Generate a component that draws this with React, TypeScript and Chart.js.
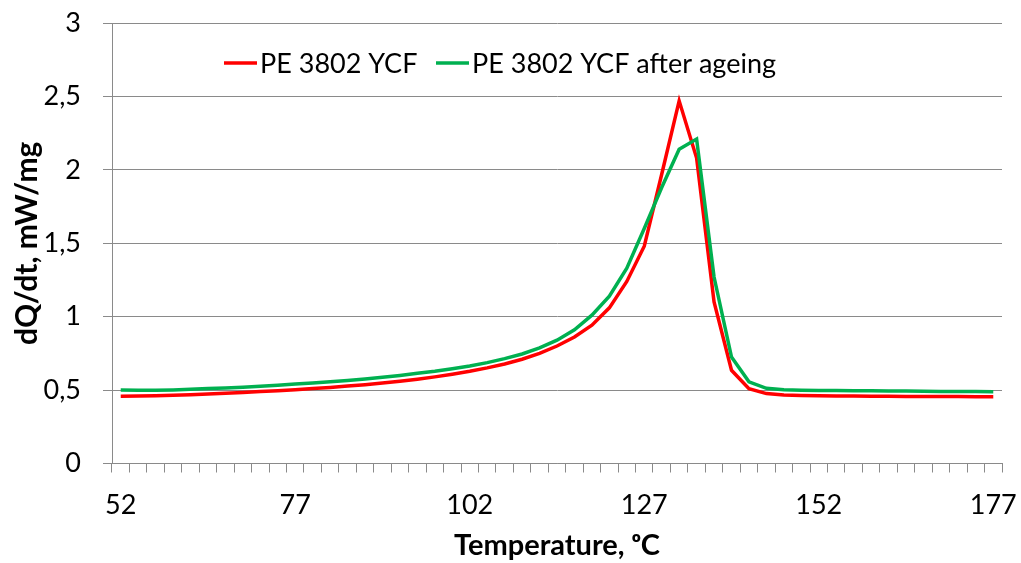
import React, { useEffect, useRef } from 'react';
import { Chart, registerables } from 'chart.js';

Chart.register(...registerables);

// Temperature categories (°C), step 2.5
const temperatures = [
  52, 54.5, 57, 59.5, 62, 64.5, 67, 69.5, 72, 74.5,
  77, 79.5, 82, 84.5, 87, 89.5, 92, 94.5, 97, 99.5,
  102, 104.5, 107, 109.5, 112, 114.5, 117, 119.5, 122, 124.5,
  127, 129.5, 132, 134.5, 137, 139.5, 142, 144.5, 147, 149.5,
  152, 154.5, 157, 159.5, 162, 164.5, 167, 169.5, 172, 174.5,
  177,
];

const xTickLabels = ['52', '77', '102', '127', '152', '177'];
const yTickLabels = ['0', '0,5', '1', '1,5', '2', '2,5', '3'];
const seriesNames = ['PE 3802 YCF', 'PE 3802 YCF after ageing'];

const peOriginal = [
  0.458, 0.459, 0.461, 0.464, 0.468, 0.473, 0.478, 0.484, 0.490, 0.496,
  0.503, 0.510, 0.518, 0.527, 0.537, 0.548, 0.560, 0.574, 0.590, 0.608,
  0.628, 0.651, 0.678, 0.710, 0.750, 0.800, 0.862, 0.942, 1.060, 1.240,
  1.480, 1.970, 2.470, 2.080, 1.100, 0.635, 0.510, 0.476, 0.466, 0.463,
  0.461, 0.460, 0.459, 0.458, 0.458, 0.457, 0.457, 0.456, 0.456, 0.455,
  0.455,
];

const peAged = [
  0.500, 0.499, 0.499, 0.501, 0.505, 0.510, 0.515, 0.520, 0.526, 0.533,
  0.541, 0.549, 0.557, 0.566, 0.576, 0.587, 0.600, 0.614, 0.628, 0.645,
  0.664, 0.687, 0.714, 0.746, 0.787, 0.840, 0.910, 1.010, 1.140, 1.330,
  1.600, 1.880, 2.140, 2.210, 1.270, 0.725, 0.556, 0.512, 0.502, 0.499,
  0.498, 0.497, 0.496, 0.495, 0.494, 0.493, 0.492, 0.491, 0.490, 0.490,
  0.489,
];

const FONT = 'Lato, "Open Sans", sans-serif';
const GRID = '#8a8a8a';

const legendPlugin = {
  id: 'manualLegend',
  afterDraw(chart: any) {
    const ctx = chart.ctx;
    const items = [
      { x: 224, color: chart.data.datasets[0].borderColor, text: seriesNames[0] },
      { x: 436, color: chart.data.datasets[1].borderColor, text: seriesNames[1] },
    ];
    const y = 63;
    ctx.save();
    ctx.font = `27px ${FONT}`;
    ctx.textBaseline = 'middle';
    ctx.textAlign = 'left';
    for (const it of items) {
      ctx.strokeStyle = it.color;
      ctx.lineWidth = 3.5;
      ctx.beginPath();
      ctx.moveTo(it.x, y);
      ctx.lineTo(it.x + 33, y);
      ctx.stroke();
      ctx.fillStyle = '#000';
      ctx.fillText(it.text, it.x + 36, y + 1);
    }
    ctx.restore();
  },
};

export default function App() {
  const ref = useRef<HTMLCanvasElement | null>(null);

  useEffect(() => {
    if (!ref.current) return;
    const chart = new Chart(ref.current, {
      type: 'line',
      data: {
        labels: temperatures.map(String),
        datasets: [
          {
            label: seriesNames[0],
            data: peOriginal,
            borderColor: '#FF0000',
            backgroundColor: '#FF0000',
            borderWidth: 3.5,
            pointRadius: 0,
            tension: 0,
            order: 2,
          },
          {
            label: seriesNames[1],
            data: peAged,
            borderColor: '#00B050',
            backgroundColor: '#00B050',
            borderWidth: 3.5,
            pointRadius: 0,
            tension: 0,
            order: 1,
          },
        ],
      },
      options: {
        responsive: false,
        animation: false,
        devicePixelRatio: 1,
        layout: { padding: { left: 0, right: 19, top: 23, bottom: 0 } },
        plugins: {
          legend: { display: false },
          tooltip: { enabled: false },
        },
        scales: {
          x: {
            type: 'category',
            offset: true,
            grid: {
              display: true,
              drawOnChartArea: false,
              drawTicks: true,
              tickLength: 9,
              color: GRID,
              offset: true,
            },
            border: { display: true, color: GRID, width: 1 },
            ticks: {
              autoSkip: false,
              maxRotation: 0,
              minRotation: 0,
              padding: 17,
              color: '#000',
              font: { family: FONT, size: 27 },
              callback: (_v: any, i: number) => (i % 10 === 0 ? xTickLabels[i / 10] : ''),
            },
            title: {
              display: true,
              text: 'Temperature, ᵒC',
              color: '#000',
              font: { family: FONT, size: 29, weight: 'bold' },
              padding: { top: 0, bottom: 0 },
            },
            afterFit: (s: any) => {
              s.height = 99.5;
              s.paddingLeft = 0;
              s.paddingRight = 0;
            },
          },
          y: {
            min: 0,
            max: 3,
            grid: {
              display: true,
              drawOnChartArea: true,
              drawTicks: true,
              tickLength: 9,
              color: GRID,
            },
            border: { display: true, color: GRID, width: 1 },
            ticks: {
              stepSize: 0.5,
              padding: 22,
              color: '#000',
              font: { family: FONT, size: 27 },
              callback: (_v: any, i: number) => yTickLabels[i],
            },
            title: {
              display: true,
              text: 'dQ/dt, mW/mg',
              color: '#000',
              font: { family: FONT, size: 30, weight: 'bold' },
              padding: { top: 9, bottom: 0 },
            },
            afterFit: (s: any) => {
              s.width = 112;
              s.paddingTop = 0;
              s.paddingBottom = 0;
            },
          },
        },
      },
      plugins: [legendPlugin],
    });
    return () => chart.destroy();
  }, []);

  return (
    <div style={{ position: 'absolute', left: 0, top: 0, width: 1021, height: 563, background: '#fff' }}>
      <canvas ref={ref} width={1021} height={563} style={{ display: 'block' }} />
    </div>
  );
}
